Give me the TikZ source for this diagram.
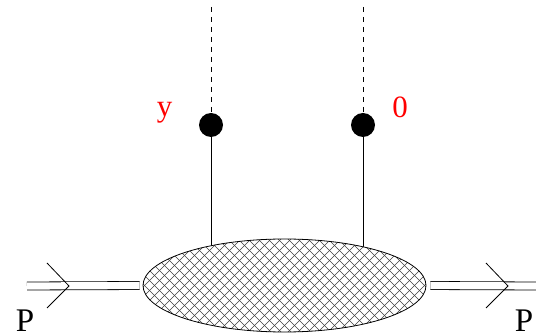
\documentclass[tikz,border=0pt]{standalone}
\usepackage{fontspec}
\setmainfont{Liberation Serif}
\usetikzlibrary{shapes.geometric,calc}
\pgfdeclarelayer{background}
\pgfsetlayers{background,main}
\begin{document}
\begin{tikzpicture}[x=1pt,y=-1pt,
  thinline/.style={line width=0.8pt,black},
  dashline/.style={line width=0.8pt,dash pattern=on 5pt off 5pt},
  dotnode/.style={circle,fill=black,inner sep=0pt,minimum size=24pt},
  blobshape/.style={ellipse,draw,line width=0.8pt,fill=white,inner sep=0pt,
    minimum width=283pt,minimum height=93pt,
    path picture={
      \foreach \k in {-40,...,40}{
        \draw[line width=0.5pt,black!75]
          ($(path picture bounding box.center)+(\k*10pt-100pt,-100pt)$) -- ++(200pt,200pt);
        \draw[line width=0.5pt,black!75]
          ($(path picture bounding box.center)+(\k*10pt+100pt,-100pt)$) -- ++(-200pt,200pt);
      }}},
  momline/.style={line width=0.8pt,double,double distance=7.2pt},
  lab/.style={font=\fontsize{31}{31}\selectfont,text=red,inner sep=0pt},
  plab/.style={font=\fontsize{33}{33}\selectfont,inner sep=0pt}]
\useasboundingbox (0,0) rectangle (536,336);
\node[blobshape] (blob) at (284.5,285.5) {};
\node[dotnode] (dL) at (211,125) {};
\node[dotnode] (dR) at (363,125) {};
\coordinate (topL) at (211,7);
\coordinate (topR) at (363,7);
\draw[dashline] (topL) -- (dL.north);
\draw[dashline] (topR) -- (dR.north);
\begin{pgfonlayer}{background}
\draw[thinline] (dL.center) -- (dL |- blob.center);
\draw[thinline] (dR.center) -- (dR |- blob.center);
\end{pgfonlayer}
\coordinate (inL) at (27,286);
\coordinate (outR) at (536,286);
\draw[momline,shorten >=3pt] (inL) -- (blob.west);
\draw[momline,shorten <=4pt] (blob.east) -- (outR);
\coordinate (arrL) at (69,286);
\coordinate (arrR) at (508,286);
\draw[thinline] ($(arrL)+(-22,-23)$) -- (arrL) -- ($(arrL)+(-22,22)$);
\draw[thinline] ($(arrR)+(-22,-23)$) -- (arrR) -- ($(arrR)+(-22,22)$);
\node[lab,anchor=base] (ly) at (164.5,117) {y};
\node[lab,anchor=base] (l0) at (400,118) {0};
\node[plab,anchor=base] (pL) at (25,332) {P};
\node[plab,anchor=base] (pR) at (524,332) {P};
\end{tikzpicture}
\end{document}
